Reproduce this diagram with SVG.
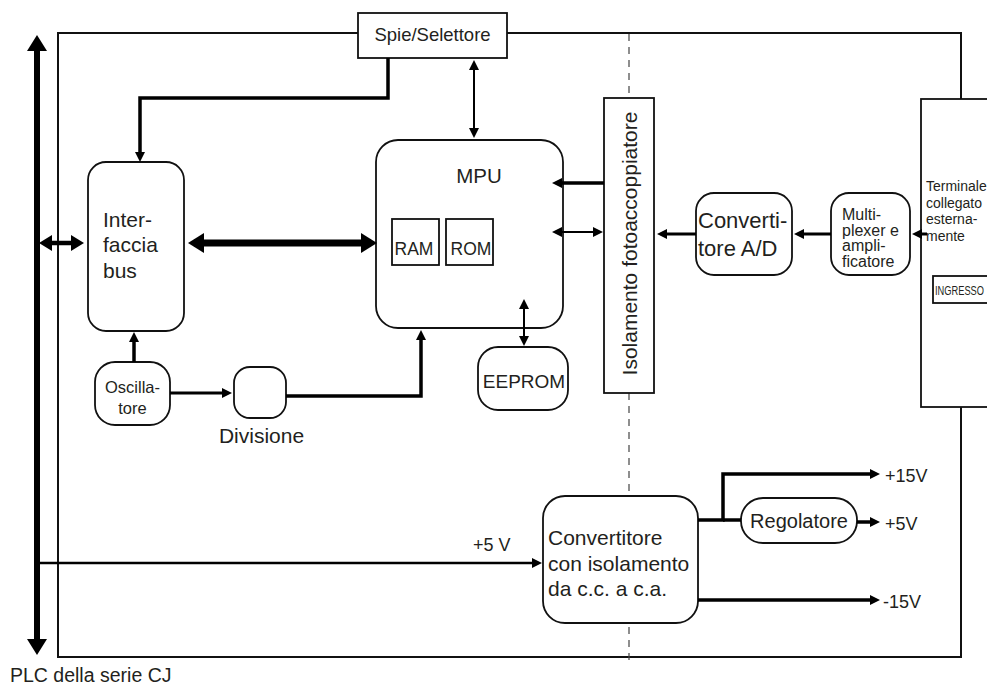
<svg xmlns="http://www.w3.org/2000/svg" width="987" height="687" viewBox="0 0 987 687">
<defs>
<style>
.box{fill:#fff;stroke:#111;stroke-width:1.8}
.frame{fill:none;stroke:#111;stroke-width:2}
.t{font-family:"Liberation Sans",Arial,sans-serif;fill:#231f20}
.c{fill:none;stroke:#000}
.dash{fill:none;stroke:#444;stroke-width:1.2;stroke-dasharray:7 6}
</style>
<marker id="ah" markerUnits="userSpaceOnUse" markerWidth="10" markerHeight="10" refX="6" refY="5" orient="auto-start-reverse"><path d="M0,0 L10,5 L0,10 z" fill="#000"/></marker>
<marker id="am" markerUnits="userSpaceOnUse" markerWidth="13" markerHeight="16" refX="8" refY="8" orient="auto-start-reverse"><path d="M0,0 L13,8 L0,16 z" fill="#000"/></marker>
<marker id="ab" markerUnits="userSpaceOnUse" markerWidth="16" markerHeight="20" refX="10" refY="10" orient="auto-start-reverse"><path d="M0,0 L16,10 L0,20 z" fill="#000"/></marker>
</defs>
<rect width="987" height="687" fill="#fff"/>

<g id="frame">
<path class="frame" d="M358,33 H58 V657 H961 V407 M507,33 H961 V99"/>
<line class="dash" x1="629" y1="34" x2="629" y2="98"/>
<line class="dash" x1="629" y1="393" x2="629" y2="662"/>
</g>

<g id="spie">
<rect class="box" x="358" y="13" width="149" height="45"/>
<text class="t" x="432.5" y="41" font-size="18.5" text-anchor="middle">Spie/Selettore</text>
</g>

<g id="interfaccia">
<rect class="box" x="88" y="162" width="96" height="169" rx="18"/>
<text class="t" font-size="21"><tspan x="103" y="227">Inter-</tspan><tspan x="103" y="252">faccia</tspan><tspan x="103" y="278">bus</tspan></text>
</g>

<g id="mpu">
<rect class="box" x="376" y="140" width="187" height="188" rx="22"/>
<text class="t" x="479" y="183" font-size="20.5" text-anchor="middle">MPU</text>
</g>

<g id="ram">
<rect class="box" stroke-width="1.5" x="392" y="219" width="47" height="46"/>
<text class="t" x="414" y="255" font-size="17.5" text-anchor="middle">RAM</text>
</g>

<g id="rom">
<rect class="box" stroke-width="1.5" x="446" y="219" width="47" height="46"/>
<text class="t" x="471" y="255" font-size="17.5" text-anchor="middle">ROM</text>
</g>

<g id="eeprom">
<rect class="box" x="478" y="347" width="90" height="63" rx="20"/>
<text class="t" x="524" y="388" font-size="19" text-anchor="middle">EEPROM</text>
</g>

<g id="isolamento">
<rect class="box" x="604" y="98" width="50" height="295"/>
<text class="t" font-size="21" text-anchor="middle" transform="translate(637,243.5) rotate(-90)">Isolamento fotoaccoppiatore</text>
</g>

<g id="convertitore-ad">
<rect class="box" x="696" y="193" width="96" height="82" rx="18"/>
<text class="t" font-size="22"><tspan x="698" y="228">Converti-</tspan><tspan x="698" y="256">tore A/D</tspan></text>
</g>

<g id="multiplexer">
<rect class="box" x="831" y="193" width="79" height="82" rx="18"/>
<text class="t" font-size="16"><tspan x="842" y="220">Multi-</tspan><tspan x="842" y="235.5">plexer e</tspan><tspan x="842" y="251">ampli-</tspan><tspan x="842" y="266.5">ficatore</tspan></text>
</g>

<g id="terminale">
<rect class="box" x="921" y="99" width="90" height="308"/>
<text class="t" font-size="14"><tspan x="926" y="191">Terminale</tspan><tspan x="926" y="207.5">collegato</tspan><tspan x="926" y="224">esterna-</tspan><tspan x="926" y="240.5">mente</tspan></text>
</g>

<g id="ingresso">
<rect class="box" stroke-width="1.5" x="933" y="276" width="70" height="27"/>
<text class="t" x="935" y="295" font-size="12.5" textLength="49" lengthAdjust="spacingAndGlyphs">INGRESSO</text>
</g>

<g id="oscillatore">
<rect class="box" x="95" y="362" width="75" height="63" rx="20"/>
<text class="t" font-size="16.5" text-anchor="middle"><tspan x="132.5" y="393">Oscilla-</tspan><tspan x="132.5" y="414">tore</tspan></text>
</g>

<g id="divisione">
<rect class="box" x="234" y="367" width="52" height="51" rx="16"/>
<text class="t" x="261.5" y="443" font-size="21" text-anchor="middle">Divisione</text>
</g>

<g id="convertitore-isolamento">
<rect class="box" x="543" y="496" width="155" height="127" rx="22"/>
<text class="t" font-size="21"><tspan x="548" y="545">Convertitore</tspan><tspan x="548" y="570.5">con isolamento</tspan><tspan x="548" y="596">da c.c. a c.a.</tspan></text>
</g>

<g id="regolatore">
<rect class="box" x="741" y="498" width="116" height="45" rx="22"/>
<text class="t" x="799" y="528" font-size="20" text-anchor="middle">Regolatore</text>
</g>

<g id="connectors">
<path class="c" stroke-width="3.5" d="M388,58 V98 H140 V158" marker-end="url(#ah)"/>
<line class="c" stroke-width="2" x1="474" y1="64" x2="474" y2="134" marker-start="url(#ah)" marker-end="url(#ah)"/>
<line class="c" stroke-width="6" x1="37" y1="41" x2="37" y2="649" marker-start="url(#ab)" marker-end="url(#ab)"/>
<line class="c" stroke-width="4.5" x1="44" y1="243" x2="79" y2="243" marker-start="url(#am)" marker-end="url(#am)"/>
<line class="c" stroke-width="7" x1="194" y1="243" x2="371" y2="243" marker-start="url(#ab)" marker-end="url(#ab)"/>
<line class="c" stroke-width="3.5" x1="134" y1="362" x2="134" y2="336" marker-end="url(#ah)"/>
<line class="c" stroke-width="3" x1="170" y1="393" x2="228" y2="393" marker-end="url(#ah)"/>
<path class="c" stroke-width="3.5" d="M286,396 H421 V334" marker-end="url(#ah)"/>
<line class="c" stroke-width="3.5" x1="604" y1="183" x2="556" y2="183" marker-end="url(#ah)"/>
<line class="c" stroke-width="2" x1="556" y1="232" x2="599" y2="232" marker-start="url(#ah)" marker-end="url(#ah)"/>
<line class="c" stroke-width="2" x1="524" y1="303" x2="524" y2="342" marker-start="url(#ah)" marker-end="url(#ah)"/>
<line class="c" stroke-width="3" x1="696" y1="234" x2="661" y2="234" marker-end="url(#ah)"/>
<line class="c" stroke-width="3" x1="831" y1="234" x2="798" y2="234" marker-end="url(#ah)"/>
<line class="c" stroke-width="3" x1="927" y1="234" x2="916" y2="234" marker-end="url(#ah)"/>
<line class="c" stroke-width="2.5" x1="37" y1="563" x2="538" y2="563" marker-end="url(#ah)"/>
<path class="c" stroke-width="3.5" d="M698,520 H723 V474 H876" marker-end="url(#ah)"/>
<path class="c" stroke-width="3.5" d="M723,520 H741"/>
<path class="c" stroke-width="3.5" d="M857,522 H876" marker-end="url(#ah)"/>
<path class="c" stroke-width="3.5" d="M698,600 H876" marker-end="url(#ah)"/>
</g>

<g id="labels">
<text class="t" x="885" y="482" font-size="18">+15V</text>
<text class="t" x="885" y="530" font-size="18">+5V</text>
<text class="t" x="883" y="608" font-size="18">-15V</text>
<text class="t" x="473" y="551" font-size="18">+5 V</text>
<text class="t" x="10" y="682" font-size="19.5">PLC della serie CJ</text>
</g>
</svg>
